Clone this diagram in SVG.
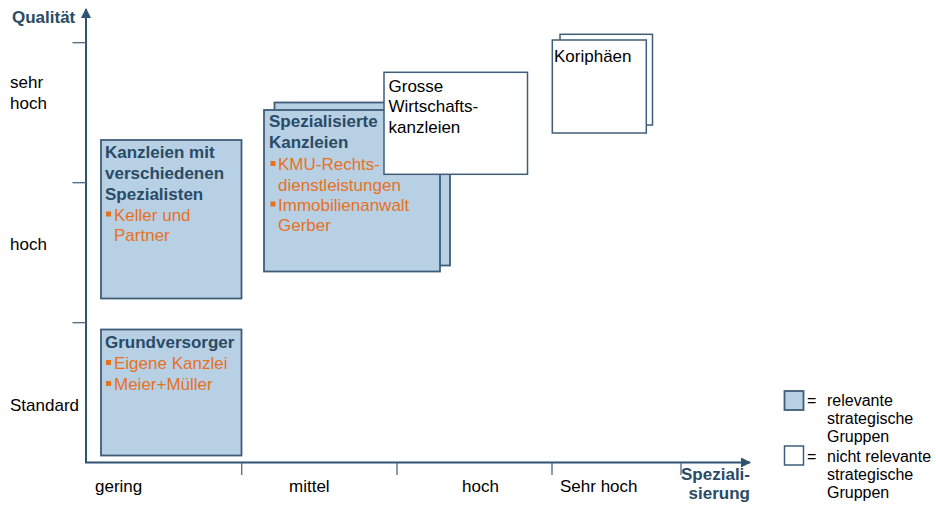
<svg xmlns="http://www.w3.org/2000/svg" width="936" height="506" viewBox="0 0 936 506">
  <style>
    text { font-family: "Liberation Sans", Arial, sans-serif; font-size: 17px; }
    .ax { stroke: #2e5373; stroke-width: 2; fill: none; }
    .tick { stroke: #4a6a86; stroke-width: 1.3; fill: none; }
    .rel { fill: #b7d0e4; stroke: #3f5d78; stroke-width: 1.8; }
    .nrel { fill: #ffffff; stroke: #3f5d78; stroke-width: 1.5; }
    .head { fill: #2a4b66; font-weight: bold; }
    .item { fill: #e8711f; }
    .bul { fill: #e8711f; }
    .lab { fill: #000000; }
    .axt { fill: #2a4b66; font-weight: bold; }
    .leg { fill: #000000; font-size: 16px; }
  </style>
  <defs>
    <marker id="arr" viewBox="0 0 10 10" refX="9" refY="5" markerWidth="5" markerHeight="5" orient="auto" markerUnits="strokeWidth">
      <path d="M0,0 L10,5 L0,10 Z" fill="#2e5373"/>
    </marker>
  </defs>

  <!-- axes and scale ticks -->
  <g id="connectors">
    <line class="ax" x1="86" y1="462.5" x2="86" y2="9" marker-end="url(#arr)"/>
    <line class="ax" x1="85" y1="462.5" x2="750" y2="462.5" marker-end="url(#arr)"/>
    <line class="tick" x1="72.5" y1="42.7" x2="86" y2="42.7"/>
    <line class="tick" x1="72.5" y1="182.7" x2="86" y2="182.7"/>
    <line class="tick" x1="72.5" y1="322.7" x2="86" y2="322.7"/>
    <line class="tick" x1="241.7" y1="462.5" x2="241.7" y2="475"/>
    <line class="tick" x1="397" y1="462.5" x2="397" y2="475"/>
    <line class="tick" x1="552" y1="462.5" x2="552" y2="475"/>
    <line class="tick" x1="681" y1="462.5" x2="681" y2="475"/>
  </g>

  <!-- axis titles and scale labels -->
  <g id="axis-labels">
    <text class="axt" x="12" y="22.5">Qualität</text>
    <text class="lab" x="10" y="88">sehr</text>
    <text class="lab" x="10" y="109">hoch</text>
    <text class="lab" x="10" y="250">hoch</text>
    <text class="lab" x="10" y="411">Standard</text>
    <text class="lab" x="95" y="492" font-size="16">gering</text>
    <text class="lab" x="289" y="492" font-size="16">mittel</text>
    <text class="lab" x="462" y="492" font-size="16">hoch</text>
    <text class="lab" x="560" y="492" font-size="16">Sehr hoch</text>
    <text class="axt" x="750" y="480" text-anchor="end">Speziali-</text>
    <text class="axt" x="750" y="499" text-anchor="end">sierung</text>
  </g>

  <!-- Kanzleien mit verschiedenen Spezialisten -->
  <g id="node-spezialisten">
    <rect class="rel" x="101" y="140" width="140.5" height="158.5"/>
    <text class="head" x="105" y="158">Kanzleien mit</text>
    <text class="head" x="105" y="179">verschiedenen</text>
    <text class="head" x="105" y="199.5">Spezialisten</text>
    <rect class="bul" x="106" y="211.5" width="5" height="5"/>
    <text class="item" x="114" y="220.5">Keller und</text>
    <text class="item" x="114" y="241">Partner</text>
  </g>

  <!-- Grundversorger -->
  <g id="node-grundversorger">
    <rect class="rel" x="101" y="329.5" width="140.5" height="126"/>
    <text class="head" x="105" y="348.3">Grundversorger</text>
    <rect class="bul" x="106" y="360" width="5" height="5"/>
    <text class="item" x="114" y="369">Eigene Kanzlei</text>
    <rect class="bul" x="106" y="381" width="5" height="5"/>
    <text class="item" x="114" y="390">Meier+Müller</text>
  </g>

  <!-- Spezialisierte Kanzleien (stacked) -->
  <g id="node-spezialisiert">
    <rect class="rel" x="274.5" y="102.5" width="175.5" height="163"/>
    <rect class="rel" x="264" y="110" width="176" height="161.5"/>
    <text class="head" x="269" y="127.3">Spezialisierte</text>
    <text class="head" x="269" y="148">Kanzleien</text>
    <rect class="bul" x="270.5" y="161" width="5" height="5"/>
    <text class="item" x="278" y="170">KMU-Rechts-</text>
    <text class="item" x="278" y="190.5">dienstleistungen</text>
    <rect class="bul" x="270.5" y="201.5" width="5" height="5"/>
    <text class="item" x="278" y="210.5">Immobilienanwalt</text>
    <text class="item" x="278" y="231">Gerber</text>
  </g>

  <!-- Grosse Wirtschaftskanzleien -->
  <g id="node-wirtschaft">
    <rect class="nrel" x="384" y="72.3" width="143.5" height="102"/>
    <text class="lab" x="388.5" y="91.7">Grosse</text>
    <text class="lab" x="388.5" y="112.3">Wirtschafts-</text>
    <text class="lab" x="388.5" y="132.7">kanzleien</text>
  </g>

  <!-- Koriphäen (stacked) -->
  <g id="node-koriphaeen">
    <rect class="nrel" x="560" y="34.3" width="92.5" height="90.7"/>
    <rect class="nrel" x="552.3" y="40" width="94" height="93"/>
    <text class="lab" x="554" y="61.7">Koriphäen</text>
  </g>

  <!-- Legend -->
  <g id="legend">
    <rect class="rel" x="784.5" y="391" width="19" height="19" stroke-width="1.3"/>
    <text class="leg" x="807" y="406">=</text>
    <text class="leg" x="827" y="406">relevante</text>
    <text class="leg" x="827" y="424">strategische</text>
    <text class="leg" x="827" y="442">Gruppen</text>
    <rect class="nrel" x="784.5" y="446" width="19" height="19" stroke-width="1.3"/>
    <text class="leg" x="807" y="461.5">=</text>
    <text class="leg" x="827" y="461.5">nicht relevante</text>
    <text class="leg" x="827" y="479.5">strategische</text>
    <text class="leg" x="827" y="497.5">Gruppen</text>
  </g>
</svg>
